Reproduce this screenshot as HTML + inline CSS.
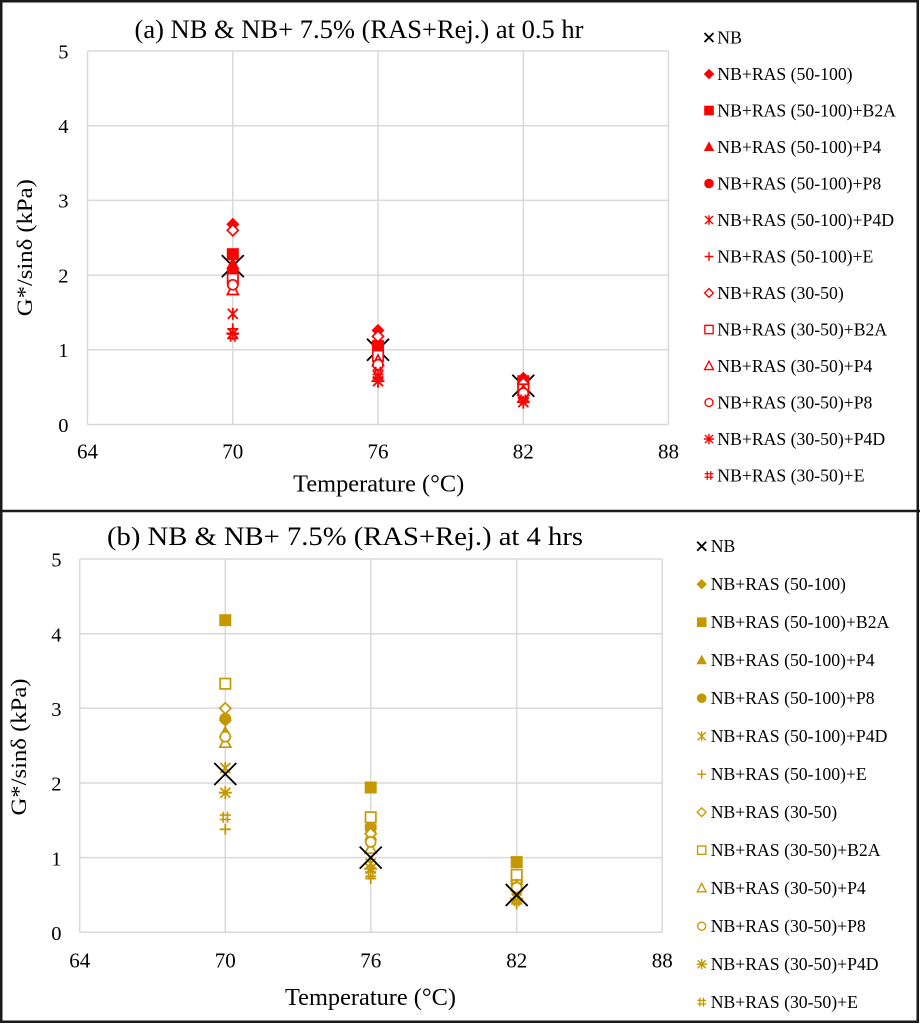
<!DOCTYPE html>
<html><head><meta charset="utf-8"><style>
html,body{margin:0;padding:0;background:#fff;}
svg{display:block;font-family:"Liberation Serif","Times New Roman",serif;}
</style></head><body>
<svg width="920" height="1024" viewBox="0 0 920 1024" xmlns="http://www.w3.org/2000/svg">
<defs>
<path id="nbx" d="M-11,-11L11,11M-11,11L11,-11" stroke="#000" stroke-width="1.8" fill="none"/>
<path id="nbxs" d="M-4.5,-4.5L4.5,4.5M-4.5,4.5L4.5,-4.5" stroke="#000" stroke-width="1.8" fill="none"/>
<path id="fd" d="M0,-6.5L6.5,0L0,6.5L-6.5,0Z" fill="currentColor"/>
<rect id="fs" x="-6" y="-6" width="12" height="12" fill="currentColor"/>
<path id="ft" d="M0,-7L6.5,5L-6.5,5Z" fill="currentColor"/>
<circle id="fc" r="6" fill="currentColor"/>
<path id="st" d="M-5,-5L5,5M-5,5L5,-5M0,-6V6" stroke="currentColor" stroke-width="1.8" fill="none"/>
<path id="pl" d="M-5.5,0H5.5M0,-5.5V5.5" stroke="currentColor" stroke-width="1.8" fill="none"/>
<path id="od" d="M0,-5.5L5.5,0L0,5.5L-5.5,0Z" fill="#fff" stroke="currentColor" stroke-width="1.7"/>
<rect id="os" x="-5.2" y="-5.2" width="10.4" height="10.4" fill="#fff" stroke="currentColor" stroke-width="1.7"/>
<path id="ot" d="M0,-6L5.5,4.5L-5.5,4.5Z" fill="#fff" stroke="currentColor" stroke-width="1.7"/>
<circle id="oc" r="5" fill="#fff" stroke="currentColor" stroke-width="1.7"/>
<path id="s8" d="M-5,-5L5,5M-5,5L5,-5M0,-6.5V6.5M-6.5,0H6.5" stroke="currentColor" stroke-width="1.8" fill="none"/>
<path id="hs" d="M-2.2,-5.5V5.5M2.2,-5.5V5.5M-5.5,-2.2H5.5M-5.5,2.2H5.5" stroke="currentColor" stroke-width="1.6" fill="none"/>
</defs>

<rect x="0" y="0" width="920" height="1024" fill="#fff"/>

<!-- ================= TOP PANEL ================= -->
<g stroke="#d9d9d9" stroke-width="1.5" fill="none">
<line x1="87.5" y1="51" x2="668.5" y2="51"/>
<line x1="87.5" y1="125.7" x2="668.5" y2="125.7"/>
<line x1="87.5" y1="200.4" x2="668.5" y2="200.4"/>
<line x1="87.5" y1="275.1" x2="668.5" y2="275.1"/>
<line x1="87.5" y1="349.8" x2="668.5" y2="349.8"/>
<line x1="87.5" y1="424.5" x2="668.5" y2="424.5"/>
<line x1="87.5" y1="51" x2="87.5" y2="424.5"/>
<line x1="232.8" y1="51" x2="232.8" y2="424.5"/>
<line x1="378" y1="51" x2="378" y2="424.5"/>
<line x1="523.3" y1="51" x2="523.3" y2="424.5"/>
<line x1="668.5" y1="51" x2="668.5" y2="424.5"/>
</g>
<text x="134.5" y="38" font-size="26" textLength="449" lengthAdjust="spacingAndGlyphs" fill="#000">(a) NB &amp; NB+ 7.5% (RAS+Rej.) at 0.5 hr</text>
<g font-size="20.5" fill="#000" text-anchor="end">
<text x="68.5" y="58.3">5</text>
<text x="68.5" y="133">4</text>
<text x="68.5" y="207.7">3</text>
<text x="68.5" y="282.4">2</text>
<text x="68.5" y="357.1">1</text>
<text x="68.5" y="431.8">0</text>
</g>
<g font-size="21" fill="#000" text-anchor="middle">
<text x="87.5" y="458.3">64</text>
<text x="232.8" y="458.3">70</text>
<text x="378" y="458.3">76</text>
<text x="523.3" y="458.3">82</text>
<text x="668.5" y="458.3">88</text>
</g>
<text x="378.7" y="491.5" font-size="24" text-anchor="middle" textLength="171" lengthAdjust="spacingAndGlyphs" fill="#000">Temperature (°C)</text>
<text transform="translate(32,247.7) rotate(-90)" font-size="22" text-anchor="middle" textLength="137" lengthAdjust="spacingAndGlyphs" fill="#000">G*/sinδ (kPa)</text>

<!-- top data -->
<use href="#nbx" x="232.8" y="266.1"/>
<use href="#nbx" x="378" y="349.8"/>
<use href="#nbx" x="523.3" y="385.7"/>
<g style="color:#ff0000">
<use href="#fd" x="232.8" y="224.3"/><use href="#fd" x="378" y="330.4"/><use href="#fd" x="523.3" y="378.2"/>
<use href="#fs" x="232.8" y="254.2"/><use href="#fs" x="378" y="346.1"/><use href="#fs" x="523.3" y="381.2"/>
<use href="#ft" x="232.8" y="263.9"/><use href="#ft" x="378" y="340.8"/><use href="#ft" x="523.3" y="379.7"/>
<use href="#fc" x="232.8" y="269.9"/><use href="#fc" x="378" y="353.5"/><use href="#fc" x="523.3" y="387.2"/>
<use href="#st" x="232.8" y="313.9"/><use href="#st" x="378" y="376"/><use href="#st" x="523.3" y="396.1"/>
<use href="#pl" x="232.8" y="328.9"/><use href="#pl" x="378" y="378.2"/><use href="#pl" x="523.3" y="398.4"/>
<use href="#od" x="232.8" y="230.3"/><use href="#od" x="378" y="336.4"/><use href="#od" x="523.3" y="383.4"/>
<use href="#os" x="232.8" y="278.8"/><use href="#os" x="378" y="355.8"/><use href="#os" x="523.3" y="389.4"/>
<use href="#ot" x="232.8" y="290"/><use href="#ot" x="378" y="361"/><use href="#ot" x="523.3" y="390.9"/>
<use href="#oc" x="232.8" y="284.8"/><use href="#oc" x="378" y="364.7"/><use href="#oc" x="523.3" y="393.1"/>
<use href="#s8" x="232.8" y="333.4"/><use href="#s8" x="378" y="381.2"/><use href="#s8" x="523.3" y="402.1"/>
<use href="#hs" x="232.8" y="336.4"/><use href="#hs" x="378" y="372.2"/><use href="#hs" x="523.3" y="399.9"/>
</g>

<!-- top legend -->
<g font-size="17.7" fill="#000">
<text x="717.3" y="43.3">NB</text>
<text x="717.3" y="79.8">NB+RAS (50-100)</text>
<text x="717.3" y="116.3">NB+RAS (50-100)+B2A</text>
<text x="717.3" y="152.8">NB+RAS (50-100)+P4</text>
<text x="717.3" y="189.3">NB+RAS (50-100)+P8</text>
<text x="717.3" y="225.8">NB+RAS (50-100)+P4D</text>
<text x="717.3" y="262.3">NB+RAS (50-100)+E</text>
<text x="717.3" y="298.8">NB+RAS (30-50)</text>
<text x="717.3" y="335.3">NB+RAS (30-50)+B2A</text>
<text x="717.3" y="371.8">NB+RAS (30-50)+P4</text>
<text x="717.3" y="408.3">NB+RAS (30-50)+P8</text>
<text x="717.3" y="444.8">NB+RAS (30-50)+P4D</text>
<text x="717.3" y="481.3">NB+RAS (30-50)+E</text>
</g>
<use href="#nbxs" x="709" y="37.5"/>
<g style="color:#ff0000">
<g transform="translate(709,74) scale(0.8)"><use href="#fd"/></g>
<g transform="translate(709,110.5) scale(0.8)"><use href="#fs"/></g>
<g transform="translate(709,147) scale(0.8)"><use href="#ft"/></g>
<g transform="translate(709,183.5) scale(0.8)"><use href="#fc"/></g>
<g transform="translate(709,220) scale(0.8)"><use href="#st"/></g>
<g transform="translate(709,256.5) scale(0.8)"><use href="#pl"/></g>
<g transform="translate(709,293) scale(0.8)"><use href="#od"/></g>
<g transform="translate(709,329.5) scale(0.8)"><use href="#os"/></g>
<g transform="translate(709,366) scale(0.8)"><use href="#ot"/></g>
<g transform="translate(709,402.5) scale(0.8)"><use href="#oc"/></g>
<g transform="translate(709,439) scale(0.8)"><use href="#s8"/></g>
<g transform="translate(709,475.5) scale(0.8)"><use href="#hs"/></g>
</g>

<!-- ================= BOTTOM PANEL ================= -->
<g stroke="#d9d9d9" stroke-width="1.5" fill="none">
<line x1="79.7" y1="559" x2="662.3" y2="559"/>
<line x1="79.7" y1="633.7" x2="662.3" y2="633.7"/>
<line x1="79.7" y1="708.3" x2="662.3" y2="708.3"/>
<line x1="79.7" y1="783" x2="662.3" y2="783"/>
<line x1="79.7" y1="857.6" x2="662.3" y2="857.6"/>
<line x1="79.7" y1="932.3" x2="662.3" y2="932.3"/>
<line x1="79.7" y1="559" x2="79.7" y2="932.3"/>
<line x1="225.3" y1="559" x2="225.3" y2="932.3"/>
<line x1="370.7" y1="559" x2="370.7" y2="932.3"/>
<line x1="516.7" y1="559" x2="516.7" y2="932.3"/>
<line x1="662.3" y1="559" x2="662.3" y2="932.3"/>
</g>
<text x="107" y="545" font-size="26" textLength="476" lengthAdjust="spacingAndGlyphs" fill="#000">(b) NB &amp; NB+ 7.5% (RAS+Rej.) at 4 hrs</text>
<g font-size="20.5" fill="#000" text-anchor="end">
<text x="61.5" y="566.7">5</text>
<text x="61.5" y="641.4">4</text>
<text x="61.5" y="716">3</text>
<text x="61.5" y="790.7">2</text>
<text x="61.5" y="865.4">1</text>
<text x="61.5" y="940">0</text>
</g>
<g font-size="21" fill="#000" text-anchor="middle">
<text x="79.7" y="967.5">64</text>
<text x="225.3" y="967.5">70</text>
<text x="370.7" y="967.5">76</text>
<text x="516.7" y="967.5">82</text>
<text x="662.3" y="967.5">88</text>
</g>
<text x="370.5" y="1005" font-size="24" text-anchor="middle" textLength="171" lengthAdjust="spacingAndGlyphs" fill="#000">Temperature (°C)</text>
<text transform="translate(26,747) rotate(-90)" font-size="22" text-anchor="middle" textLength="137" lengthAdjust="spacingAndGlyphs" fill="#000">G*/sinδ (kPa)</text>

<!-- bottom data -->
<g style="color:#c59800">
<use href="#fd" x="225.3" y="720.3"/><use href="#fd" x="370.7" y="825.5"/><use href="#fd" x="516.7" y="878.5"/>
<use href="#fs" x="225.3" y="620.2"/><use href="#fs" x="370.7" y="787.5"/><use href="#fs" x="516.7" y="862.1"/>
<use href="#ft" x="225.3" y="732.2"/><use href="#ft" x="370.7" y="835.2"/><use href="#ft" x="516.7" y="880"/>
<use href="#fc" x="225.3" y="718.8"/><use href="#fc" x="370.7" y="828.5"/><use href="#fc" x="516.7" y="883.8"/>
<use href="#st" x="225.3" y="768"/><use href="#st" x="370.7" y="863.6"/><use href="#st" x="516.7" y="896.5"/>
<use href="#pl" x="225.3" y="829.3"/><use href="#pl" x="370.7" y="878.5"/><use href="#pl" x="516.7" y="903.9"/>
<use href="#od" x="225.3" y="708.3"/><use href="#od" x="370.7" y="833.7"/><use href="#od" x="516.7" y="881.5"/>
<use href="#os" x="225.3" y="683.7"/><use href="#os" x="370.7" y="817.3"/><use href="#os" x="516.7" y="874.8"/>
<use href="#ot" x="225.3" y="742.7"/><use href="#ot" x="370.7" y="848.7"/><use href="#ot" x="516.7" y="886"/>
<use href="#oc" x="225.3" y="736.7"/><use href="#oc" x="370.7" y="842"/><use href="#oc" x="516.7" y="887.5"/>
<use href="#s8" x="225.3" y="792.7"/><use href="#s8" x="370.7" y="868.8"/><use href="#s8" x="516.7" y="898.7"/>
<use href="#hs" x="225.3" y="817.3"/><use href="#hs" x="370.7" y="874.1"/><use href="#hs" x="516.7" y="900.9"/>
</g>
<use href="#nbx" x="225.3" y="774"/>
<use href="#nbx" x="370.7" y="857.6"/>
<use href="#nbx" x="516.7" y="895"/>

<!-- bottom legend -->
<g font-size="17.7" fill="#000">
<text x="710.7" y="552">NB</text>
<text x="710.7" y="590">NB+RAS (50-100)</text>
<text x="710.7" y="628">NB+RAS (50-100)+B2A</text>
<text x="710.7" y="666">NB+RAS (50-100)+P4</text>
<text x="710.7" y="704">NB+RAS (50-100)+P8</text>
<text x="710.7" y="742">NB+RAS (50-100)+P4D</text>
<text x="710.7" y="780">NB+RAS (50-100)+E</text>
<text x="710.7" y="818">NB+RAS (30-50)</text>
<text x="710.7" y="856">NB+RAS (30-50)+B2A</text>
<text x="710.7" y="894">NB+RAS (30-50)+P4</text>
<text x="710.7" y="932">NB+RAS (30-50)+P8</text>
<text x="710.7" y="970">NB+RAS (30-50)+P4D</text>
<text x="710.7" y="1008">NB+RAS (30-50)+E</text>
</g>
<use href="#nbxs" x="701.7" y="546.2"/>
<g style="color:#c59800">
<g transform="translate(701.7,584.2) scale(0.8)"><use href="#fd"/></g>
<g transform="translate(701.7,622.2) scale(0.8)"><use href="#fs"/></g>
<g transform="translate(701.7,660.2) scale(0.8)"><use href="#ft"/></g>
<g transform="translate(701.7,698.2) scale(0.8)"><use href="#fc"/></g>
<g transform="translate(701.7,736.2) scale(0.8)"><use href="#st"/></g>
<g transform="translate(701.7,774.2) scale(0.8)"><use href="#pl"/></g>
<g transform="translate(701.7,812.2) scale(0.8)"><use href="#od"/></g>
<g transform="translate(701.7,850.2) scale(0.8)"><use href="#os"/></g>
<g transform="translate(701.7,888.2) scale(0.8)"><use href="#ot"/></g>
<g transform="translate(701.7,926.2) scale(0.8)"><use href="#oc"/></g>
<g transform="translate(701.7,964.2) scale(0.8)"><use href="#s8"/></g>
<g transform="translate(701.7,1002.2) scale(0.8)"><use href="#hs"/></g>
</g>

<!-- borders -->
<rect x="1.25" y="1.25" width="916.5" height="1020.5" fill="none" stroke="#1a1a1a" stroke-width="2.5"/>
<line x1="0" y1="511" x2="920" y2="511" stroke="#1a1a1a" stroke-width="2.5"/>
</svg>
</body></html>
